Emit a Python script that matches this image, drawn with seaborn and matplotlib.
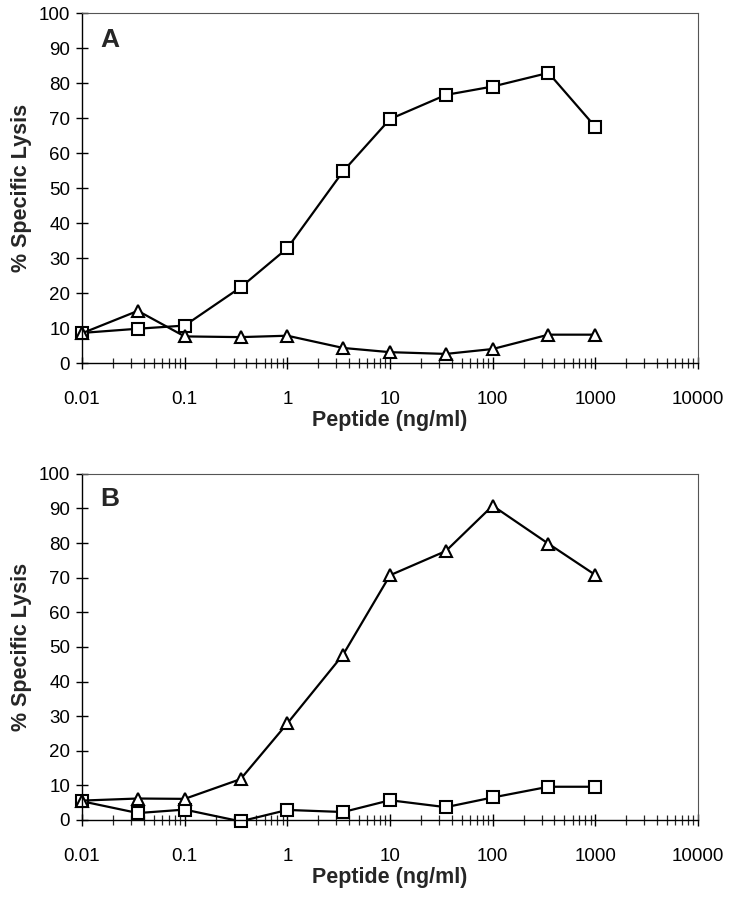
import pandas as pd
import matplotlib
matplotlib.use("Agg")
import matplotlib.pyplot as plt
import matplotlib.ticker as mticker
import seaborn as sns

# peptide concentrations (ng/ml)
peptide = [0.01, 0.035, 0.1, 0.35, 1, 3.5, 10, 35, 100, 350, 1000]

# panel A
a_square = [8.6, 9.8, 10.7, 21.6, 32.8, 54.8, 69.7, 76.6, 79.0, 82.9, 67.5]
a_triangle = [8.5, 14.9, 7.6, 7.4, 7.8, 4.3, 3.1, 2.6, 4.0, 8.1, 8.1]

# panel B
b_triangle = [5.6, 6.2, 6.1, 11.8, 27.9, 47.8, 70.7, 77.7, 90.8, 79.8, 70.8]
b_square = [5.4, 2.0, 3.0, -0.4, 2.9, 2.3, 5.7, 3.7, 6.5, 9.6, 9.6]

sns.set_style("white")
plt.rcParams['font.family'] = ['Liberation Sans', 'DejaVu Sans']

fig = plt.figure(figsize=(7.35, 8.99), dpi=100)
ax_a = fig.add_axes([0.1116, 0.5962, 0.838, 0.3893])
ax_b = fig.add_axes([0.1116, 0.0879, 0.838, 0.3850])


def draw_panel(ax, squares, triangles, letter, letter_y):
    df = pd.DataFrame({
        "Peptide": peptide * 2,
        "Lysis": squares + triangles,
        "series": ["sq"] * len(peptide) + ["tri"] * len(peptide),
    })
    sns.lineplot(data=df, x="Peptide", y="Lysis", hue="series", style="series",
                 markers={"sq": "s", "tri": "^"}, dashes=False,
                 palette={"sq": "black", "tri": "black"}, linewidth=1.6,
                 markersize=8.5, markerfacecolor="white", markeredgecolor="black",
                 markeredgewidth=1.5, legend=False, ax=ax, clip_on=False)
    ax.set_xscale("log")
    ax.set_xlim(0.01, 10000)
    ax.set_ylim(0, 100)
    ax.set_yticks(range(0, 101, 10))
    ax.xaxis.set_minor_locator(mticker.LogLocator(base=10, subs=range(2, 10), numticks=10))
    ax.set_xticks([0.01, 0.1, 1, 10, 100, 1000, 10000])
    ax.set_xticklabels(["0.01", "0.1", "1", "10", "100", "1000", "10000"])
    ax.tick_params(axis="both", which="major", direction="inout", length=9, width=1,
                   labelsize=13.5, colors="black", bottom=True, left=True)
    ax.tick_params(axis="x", which="minor", direction="inout", length=7, width=0.9,
                   bottom=True)
    ax.tick_params(axis="x", pad=16)
    ax.tick_params(axis="y", pad=4)
    for side in ["top", "right"]:
        ax.spines[side].set_color("#555555")
        ax.spines[side].set_linewidth(0.8)
    for side in ["left", "bottom"]:
        ax.spines[side].set_color("black")
        ax.spines[side].set_linewidth(1.0)
    ax.set_xlabel("Peptide (ng/ml)", fontweight="bold", fontsize=15.5, labelpad=1)
    ax.set_ylabel("% Specific Lysis", fontweight="bold", fontsize=15.5, labelpad=5)
    ax.text(0.029, letter_y, letter, transform=ax.transAxes, ha="left", va="top",
            fontweight="bold", fontsize=19)
    ax.grid(False)


draw_panel(ax_a, a_square, a_triangle, "A", 0.957)
draw_panel(ax_b, b_square, b_triangle, "B", 0.962)

fig.savefig("out.png", dpi=100)
